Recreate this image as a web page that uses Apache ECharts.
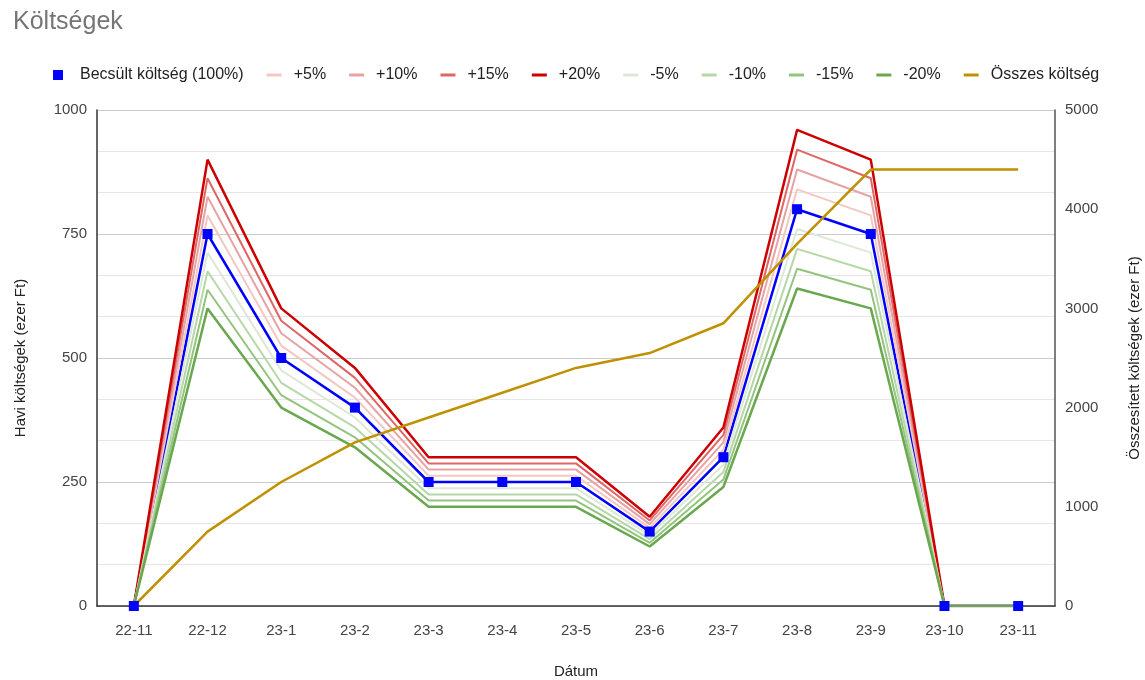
<!DOCTYPE html>
<html>
<head>
<meta charset="utf-8">
<script src="https://cdn.jsdelivr.net/npm/echarts@6/dist/echarts.min.js"></script>
<style>
  html, body { margin: 0; padding: 0; background: #fff; }
  #chart { width: 1145px; height: 680px; }
</style>
</head>
<body>
<div id="chart"></div>
<script>
const months = ['22-11', '22-12', '23-1', '23-2', '23-3', '23-4', '23-5', '23-6', '23-7', '23-8', '23-9', '23-10', '23-11'];

const becsult = [0, 750, 500, 400, 250, 250, 250, 150, 300, 800, 750, 0, 0];
const plus5 = [0, 787.5, 525, 420, 262.5, 262.5, 262.5, 157.5, 315, 840, 787.5, 0, 0];
const plus10 = [0, 825, 550, 440, 275, 275, 275, 165, 330, 880, 825, 0, 0];
const plus15 = [0, 862.5, 575, 460, 287.5, 287.5, 287.5, 172.5, 345, 920, 862.5, 0, 0];
const plus20 = [0, 900, 600, 480, 300, 300, 300, 180, 360, 960, 900, 0, 0];
const minus5 = [0, 712.5, 475, 380, 237.5, 237.5, 237.5, 142.5, 285, 760, 712.5, 0, 0];
const minus10 = [0, 675, 450, 360, 225, 225, 225, 135, 270, 720, 675, 0, 0];
const minus15 = [0, 637.5, 425, 340, 212.5, 212.5, 212.5, 127.5, 255, 680, 637.5, 0, 0];
const minus20 = [0, 600, 400, 320, 200, 200, 200, 120, 240, 640, 600, 0, 0];
const osszes = [0, 750, 1250, 1650, 1900, 2150, 2400, 2550, 2850, 3650, 4400, 4400, 4400];

// icons leave empty room on the right so the text sits further from them
const squareIcon = 'path://M0,0H10V10H0ZM22,0L22,0';
const lineIcon = 'path://M0,0L0,0M0,3.5H15V6.5H0ZM22,10L22,10';
const font = 'Arial, "Liberation Sans", sans-serif';

function variant(name, data, color, width) {
  return {
    name: name,
    type: 'line',
    data: data,
    symbol: 'none',
    lineStyle: { color: color, width: width },
    itemStyle: { color: color },
    emphasis: { disabled: true }
  };
}

const chart = echarts.init(document.getElementById('chart'));

chart.setOption({
  animation: false,
  textStyle: { fontFamily: font },
  title: {
    text: 'Költségek',
    left: 8,
    top: 5,
    textStyle: { fontSize: 25, fontWeight: 'normal', color: '#757575', fontFamily: font }
  },
  legend: {
    left: 48,
    top: 62,
    itemWidth: 22,
    itemHeight: 10,
    itemGap: 23,
    textStyle: { fontSize: 16, color: '#222', fontFamily: font },
    data: [
      { name: 'Becsült költség (100%)', icon: squareIcon },
      { name: '+5%', icon: lineIcon },
      { name: '+10%', icon: lineIcon },
      { name: '+15%', icon: lineIcon },
      { name: '+20%', icon: lineIcon },
      { name: '-5%', icon: lineIcon },
      { name: '-10%', icon: lineIcon },
      { name: '-15%', icon: lineIcon },
      { name: '-20%', icon: lineIcon },
      { name: 'Összes költség', icon: lineIcon }
    ]
  },
  grid: { left: 97, right: 90, top: 110, bottom: 74, outerBoundsMode: 'none' },
  xAxis: [
    {
      type: 'category',
      data: months,
      boundaryGap: true,
      name: 'Dátum',
      nameLocation: 'middle',
      nameGap: 58,
      nameTextStyle: { fontSize: 15, color: '#222' },
      axisLine: { lineStyle: { color: '#333', width: 1.5 } },
      axisTick: { alignWithLabel: true, length: 9, lineStyle: { color: '#222', width: 1.5 } },
      axisLabel: { fontSize: 15, color: '#444', margin: 17 }
    },
    {
      // ticks that poke up into the plot, so they cross the axis line
      type: 'category',
      data: months,
      boundaryGap: true,
      position: 'bottom',
      axisLine: { show: false },
      axisTick: { alignWithLabel: true, inside: true, length: 8, lineStyle: { color: '#222', width: 1.5 } },
      axisLabel: { show: false },
      splitLine: { show: false }
    }
  ],
  yAxis: [
    {
      type: 'value',
      min: 0,
      max: 1000,
      interval: 250,
      name: 'Havi költségek (ezer Ft)',
      nameLocation: 'middle',
      nameRotate: 90,
      nameGap: 69,
      nameTextStyle: { fontSize: 15, color: '#222' },
      axisLine: { show: true, lineStyle: { color: '#333', width: 1.5 } },
      axisTick: { show: false },
      axisLabel: { fontSize: 15, color: '#444', margin: 10, formatter: v => String(v) },
      splitLine: { lineStyle: { color: '#cccccc' } },
      minorTick: { show: false, splitNumber: 3 },
      minorSplitLine: { show: true, lineStyle: { color: '#e6e6e6' } }
    },
    {
      type: 'value',
      min: 0,
      max: 5000,
      interval: 1000,
      name: 'Összesített költségek (ezer Ft)',
      nameLocation: 'middle',
      nameRotate: 90,
      nameGap: 72,
      nameTextStyle: { fontSize: 15, color: '#222' },
      axisLine: { show: true, lineStyle: { color: '#555', width: 1.5 } },
      axisTick: { show: false },
      axisLabel: { fontSize: 15, color: '#444', margin: 10, formatter: v => String(v) },
      splitLine: { show: false }
    }
  ],
  series: [
    {
      name: 'Becsült költség (100%)',
      type: 'line',
      data: becsult,
      symbol: 'rect',
      symbolSize: 10,
      lineStyle: { color: '#0000ff', width: 2.5 },
      itemStyle: { color: '#0000ff' },
      emphasis: { disabled: true }
    },
    variant('+5%', plus5, '#f4c7c3', 2),
    variant('+10%', plus10, '#e6a3a3', 2),
    variant('+15%', plus15, '#e06666', 2),
    variant('+20%', plus20, '#cc0000', 2.5),
    variant('-5%', minus5, '#dde8d5', 2),
    variant('-10%', minus10, '#b6d7a8', 2),
    variant('-15%', minus15, '#93c47d', 2),
    variant('-20%', minus20, '#6aa84f', 2.5),
    {
      name: 'Összes költség',
      type: 'line',
      yAxisIndex: 1,
      data: osszes,
      symbol: 'none',
      lineStyle: { color: '#bf9000', width: 2.5 },
      itemStyle: { color: '#bf9000' },
      emphasis: { disabled: true }
    }
  ]
});
</script>
</body>
</html>
